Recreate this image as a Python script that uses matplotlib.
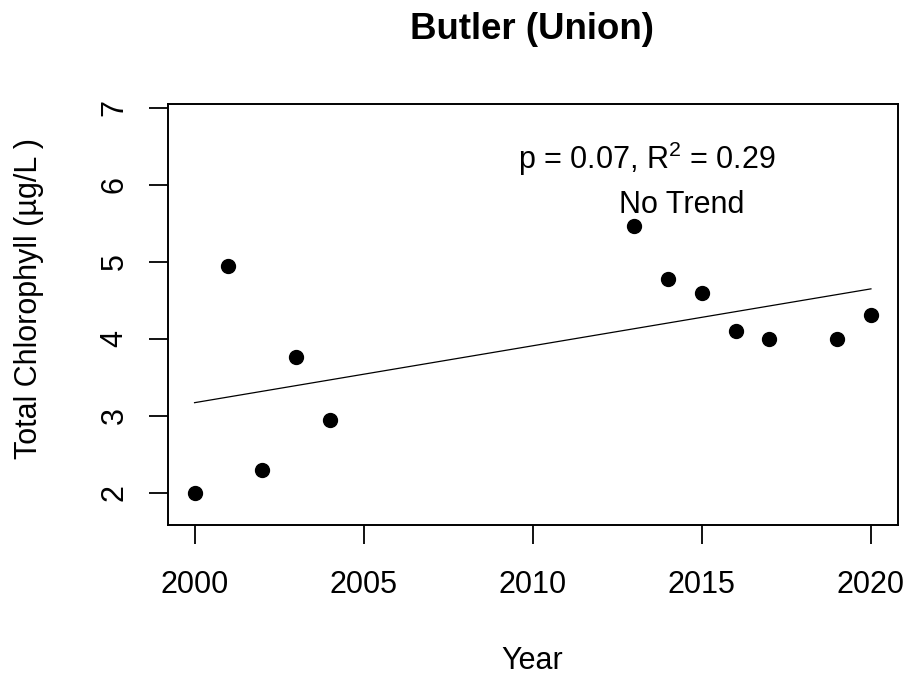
import numpy as np
import matplotlib
matplotlib.use("Agg")
import matplotlib.pyplot as plt

plt.rcParams['font.family'] = ['Liberation Sans', 'DejaVu Sans']
plt.rcParams['mathtext.fontset'] = 'custom'
plt.rcParams['mathtext.rm'] = 'Liberation Sans'
plt.rcParams['mathtext.it'] = 'Liberation Sans'
plt.rcParams['mathtext.default'] = 'regular'

title = "Butler (Union)"
years = np.array([2000, 2001, 2002, 2003, 2004, 2013, 2014, 2015, 2016, 2017, 2019, 2020])
chl = np.array([2.00, 4.95, 2.29, 3.76, 2.94, 5.47, 4.78, 4.60, 4.10, 4.00, 4.00, 4.31])
xticks = [2000, 2005, 2010, 2015, 2020]
yticks = [2, 3, 4, 5, 6, 7]
stat_text = r"p = 0.07, R$^2$ = 0.29"
trend_text = "No Trend"

W, H = 911, 681
fig = plt.figure(figsize=(W / 100, H / 100), dpi=100)
L, R, T, B = 167.5, 898, 104, 525
ax = fig.add_axes([L / W, 1 - B / H, (R - L) / W, (B - T) / H])

ax.plot(years, chl, 'o', color='black', ms=10, zorder=3)
slope, icpt = np.polyfit(years, chl, 1)
xl = np.array([years.min(), years.max()])
ax.plot(xl, icpt + slope * xl, color='black', lw=0.9)

ax.set_xlim(1999.2, 2020.8)
ax.set_ylim(1.58, 7.05)
ax.set_xticks(xticks)
ax.set_yticks(yticks)
ax.set_xticklabels([str(v) for v in xticks])
ax.set_yticklabels([str(v) for v in yticks], rotation=90, va='center')
fs = 22
ax.tick_params(axis='both', direction='out', length=13.7, width=1.3, labelsize=fs, colors='black')
ax.tick_params(axis='x', pad=19.0)
ax.tick_params(axis='y', pad=13.5)
for s in ax.spines.values():
    s.set_linewidth(1.4)

ax.text(2013.36, 6.21, stat_text, ha='center', va='baseline', fontsize=fs)
ax.text(2014.39, 5.64, trend_text, ha='center', va='baseline', fontsize=fs)

fig.text(532 / W, 1 - 39 / H, title, ha='center', va='baseline', fontsize=26.4, fontweight='bold')
fig.text(532 / W, 1 - 661 / H, "Year", ha='center', va='center', fontsize=fs)
fig.text(29 / W, 1 - 298 / H, "Total Chlorophyll (µg/L )", ha='center', va='center', rotation=90, fontsize=fs)

fig.savefig("out.png", dpi=100)
